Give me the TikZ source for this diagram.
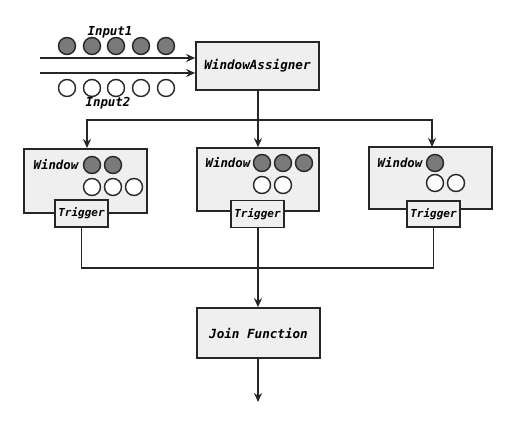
\documentclass[tikz,border=0pt]{standalone}
\usepackage{fontspec}
\setmonofont{DejaVu Sans Mono}
\usetikzlibrary{arrows.meta}
\definecolor{boxfill}{HTML}{EFEFEF}
\definecolor{ballfill}{HTML}{7A7A7A}
\tikzset{
  box/.style={draw=black!85, line width=1.7pt, fill=boxfill, inner sep=0pt,
    font=\ttfamily\bfseries\itshape\fontsize{12.6}{14}\selectfont},
  trig/.style={box, font=\ttfamily\bfseries\itshape\fontsize{11}{12}\selectfont},
  lbl/.style={inner sep=0pt, font=\ttfamily\bfseries\itshape\fontsize{12.4}{14}\selectfont},
  full/.style={circle, draw=black!85, line width=1.4pt, fill=ballfill, minimum size=17pt, inner sep=0pt},
  empty/.style={circle, draw=black!85, line width=1.4pt, fill=white, minimum size=17pt, inner sep=0pt},
  conn/.style={draw=black!85, line width=1.7pt},
  arr/.style={conn, -{Stealth[length=9pt,width=8pt]}},
}
\begin{document}
\begin{tikzpicture}[x=1pt,y=-1pt]
\useasboundingbox (0,0) rectangle (515,426);
% WindowAssigner
\node[box, minimum width=123pt, minimum height=48pt] (wa) at (257.5,66) {WindowAssigner};
% inputs
\node[lbl] (in1) at (110,32) {Input1};
\node[lbl] (in2) at (108,103) {Input2};
\foreach \i/\x in {1/67,2/92,3/116,4/141,5/166}{
  \node[full] (a\i) at (\x,46) {};
  \node[empty] (b\i) at (\x,88) {};
}
\coordinate (s1) at (40,58);
\coordinate (s2) at (40,73);
\draw[arr] (s1) -- (s1 -| wa.west);
\draw[arr] (s2) -- (s2 -| wa.west);
% windows
\node[box, minimum width=123pt, minimum height=64pt] (w1) at (85.5,181) {};
\node[box, minimum width=122pt, minimum height=63pt] (w2) at (258,179.5) {};
\node[box, minimum width=123pt, minimum height=62pt] (w3) at (430.5,178) {};
\node[lbl] (w1t) at (56,165) {Window};
\node[lbl] (w2t) at (228,163) {Window};
\node[lbl] (w3t) at (400,163) {Window};
\node[full] (w1a) at (92,165) {};
\node[full] (w1b) at (113,165) {};
\node[empty] (w1c) at (92,187) {};
\node[empty] (w1d) at (113,187) {};
\node[empty] (w1e) at (134,187) {};
\node[full] (w2a) at (262,163) {};
\node[full] (w2b) at (283,163) {};
\node[full] (w2c) at (304,163) {};
\node[empty] (w2d) at (262,185) {};
\node[empty] (w2e) at (283,185) {};
\node[full] (w3a) at (435,163) {};
\node[empty] (w3b) at (435,183) {};
\node[empty] (w3c) at (456,183) {};
% triggers
\node[trig, minimum width=53pt, minimum height=27pt] (t1) at (81.5,213.5) {Trigger};
\node[trig, minimum width=53pt, minimum height=27pt] (t2) at (257.5,214) {Trigger};
\node[trig, minimum width=53pt, minimum height=26pt] (t3) at (433.5,214) {Trigger};
% join
\node[box, minimum width=123pt, minimum height=50pt] (jf) at (258.5,333) {Join Function};
\coordinate (out) at (258,402);
% connectors
\coordinate (split) at (258,120);
\draw[conn] (wa.south -| split) -- (split);
\draw[arr] (split) -- (w2.north -| split);
\draw[arr] (split) -| (87,148) coordinate (w1top);
\draw[arr] (split) -| (432,147) coordinate (w3top);
\coordinate (merge) at (258,268);
\draw[conn] (t1.south) |- (merge);
\draw[conn] (t3.south) |- (merge);
\draw[arr] (t2.south -| merge) -- (jf.north -| merge);
\draw[arr] (jf.south -| out) -- (out);
\end{tikzpicture}
\end{document}
